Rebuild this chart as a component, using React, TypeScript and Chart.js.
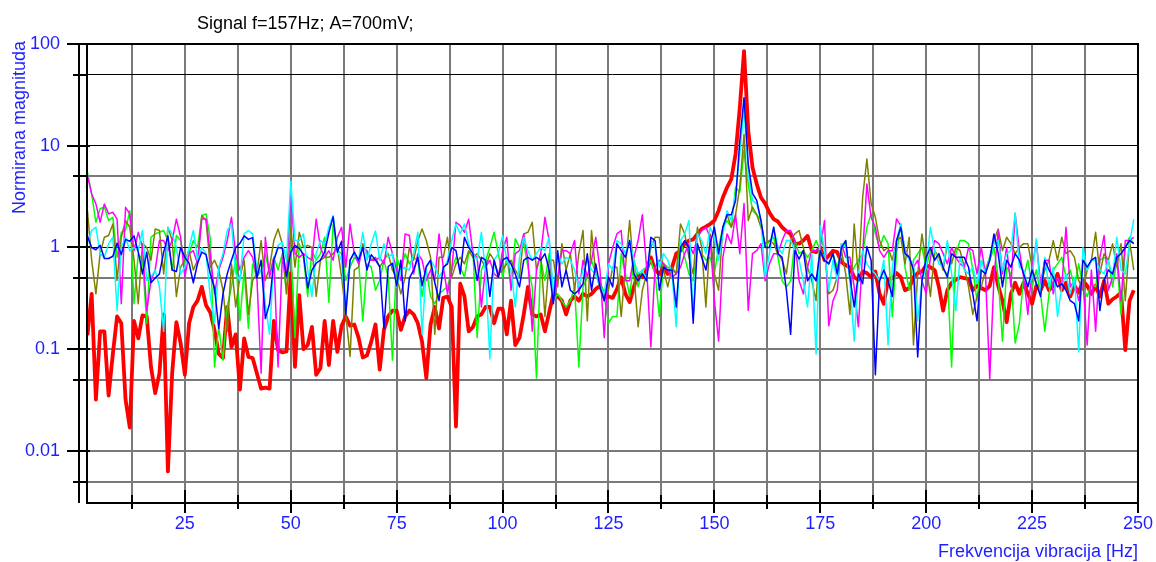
import React, { useEffect, useRef } from 'react';
import { Chart, registerables } from 'chart.js';

Chart.register(...registerables);

// Frequency bins (Hz): first bin and bin width
const FREQ_START = 2;
const FREQ_STEP = 1;

// Normalised magnitudes, one value per 1 Hz bin from 2 Hz to 249 Hz
const redSeries = [
  0.137, 0.35, 0.032, 0.15, 0.15, 0.035, 0.09, 0.21, 0.18, 0.032, 0.017, 0.19, 0.128, 0.215, 0.21, 0.067, 0.037, 0.058, 0.22, 0.0063,
  0.058, 0.185, 0.115, 0.056, 0.18, 0.26, 0.3, 0.41, 0.27, 0.23, 0.154, 0.09, 0.082, 0.26, 0.105, 0.14, 0.04, 0.128, 0.084, 0.082, 0.058,
  0.041, 0.042, 0.041, 0.19, 0.098, 0.093, 0.095, 0.56, 0.067, 0.34, 0.1, 0.11, 0.166, 0.056, 0.065, 0.19, 0.07, 0.19, 0.094, 0.17,
  0.21, 0.17, 0.175, 0.13, 0.083, 0.087, 0.118, 0.175, 0.063, 0.155, 0.21, 0.24, 0.24, 0.155, 0.21, 0.24, 0.22, 0.18, 0.118, 0.052,
  0.175, 0.26, 0.16,
  0.32, 0.33, 0.26, 0.0174, 0.44, 0.33, 0.15, 0.165, 0.21, 0.22, 0.26, 0.26, 0.18, 0.25, 0.25, 0.14, 0.3, 0.11, 0.13, 0.22,
  0.41, 0.22, 0.21, 0.22, 0.15, 0.23, 0.35, 0.33, 0.3, 0.22, 0.3, 0.33, 0.3, 0.35, 0.33, 0.35, 0.39, 0.42, 0.33, 0.33, 0.32,
  0.39, 0.51, 0.35, 0.29, 0.41, 0.55, 0.51, 0.6, 0.8, 0.6, 0.55, 0.64, 0.55, 0.64, 0.87, 0.93, 1.09, 1.17, 1.2, 1.36,
  1.52, 1.6, 1.7, 1.84, 2.3, 3.1, 3.9, 4.7, 8.3, 23.7, 85, 14, 6.1, 4.2, 3.1, 2.7, 2.2, 1.9, 1.8, 1.58, 1.45,
  1.36, 1.09, 1.09, 1.17, 1.3, 0.93, 0.9, 1.0, 0.75, 0.83, 0.93, 0.9, 0.72, 0.67, 0.64, 0.51, 0.48, 0.58, 0.56, 0.51,
  0.58, 0.35, 0.28, 0.48, 0.5, 0.56, 0.51, 0.38, 0.4, 0.51, 0.56, 0.58, 0.67, 0.64, 0.6, 0.41, 0.24, 0.38, 0.45, 0.48, 0.51,
  0.5, 0.49, 0.38, 0.42, 0.4, 0.38, 0.42, 0.64, 0.42, 0.3, 0.185, 0.35, 0.45, 0.35, 0.45, 0.35, 0.28, 0.42, 0.38, 0.47,
  0.38, 0.42, 0.55, 0.38, 0.45, 0.33, 0.42, 0.36, 0.47, 0.42, 0.35, 0.42, 0.33, 0.47, 0.28, 0.31, 0.33, 0.36, 0.098, 0.3, 0.38,
];

const blueSeries = [
  1.3, 1.0, 0.95, 1.05, 0.78, 0.78, 0.82, 1.1, 0.85, 1.2, 1.15, 1.3, 0.9, 0.55, 0.9, 0.45, 0.5, 0.55, 0.9, 1.3,
  0.6, 0.58, 1.0, 0.8, 0.7, 0.45, 0.7, 0.9, 0.85, 0.55, 0.4, 0.16, 0.35, 0.55, 0.75, 1.0, 1.1, 1.3, 1.2, 1.25, 0.5,
  0.75, 0.2, 0.28, 0.75, 1.0, 0.98, 0.52, 0.9, 1.05, 0.98, 0.85, 0.4, 0.6, 0.7, 0.75, 0.9, 1.4, 2.0, 0.9, 1.15,
  0.22, 0.75, 0.9, 0.75, 1.0, 0.6, 0.85, 0.75, 0.65, 0.16, 0.65, 0.7, 0.42, 0.75, 0.19, 0.5, 0.6, 0.8, 0.42, 0.65,
  0.75, 0.45, 0.3,
  0.64, 0.69, 1.0, 0.93, 0.55, 1.26, 1.0, 0.87, 0.475, 0.8, 0.75, 0.33, 0.75, 0.51, 0.75, 0.8, 0.69, 0.55, 0.41, 0.75,
  0.8, 0.75, 0.8, 0.75, 0.87, 0.6, 0.28, 0.93, 0.41, 0.6, 0.38, 0.35, 0.38, 0.44, 0.87, 0.38, 0.69, 0.41, 0.3, 0.51, 0.41,
  1.09, 0.93, 0.8, 1.17, 0.55, 0.47, 0.55, 0.47, 1.26, 1.17, 0.38, 0.64, 0.6, 0.6, 0.26, 1.0, 1.17, 1.0, 0.18, 1.09,
  0.8, 0.6, 1.09, 1.58, 0.87, 1.58, 2.1, 2.1, 2.9, 11.2, 29.7, 6.6, 3.4, 2.9, 1.84, 1.0, 1.0, 1.58, 0.87, 0.8, 0.38,
  0.14, 0.93, 0.77, 0.93, 0.47, 0.55, 0.47, 0.93, 0.75, 0.69, 0.87, 0.55, 1.0, 1.17, 0.51, 0.26, 0.55, 0.44, 1.02, 0.75,
  0.056, 0.47, 0.6, 0.47, 0.33, 1.17, 1.58, 0.87, 0.8, 0.6, 0.084, 0.47, 0.8, 1.0, 0.75, 0.87, 0.64, 0.51, 0.87, 0.8, 0.8,
  0.8, 0.64, 0.35, 0.19, 0.6, 0.55, 0.75, 1.36, 0.87, 0.41, 0.75, 0.64, 0.87, 0.75, 0.55, 0.41, 0.6, 0.44, 0.33, 0.75,
  0.6, 0.51, 0.41, 0.44, 0.38, 0.3, 0.28, 0.19, 0.75, 0.64, 0.75, 0.8, 0.24, 0.475, 0.6, 0.55, 0.8, 0.87, 1.0, 1.17, 1.09,
];

const cyanSeries = [
  1.09, 1.47, 1.58, 0.87, 0.8, 1.09, 1.26, 0.24, 1.0, 1.26, 0.93, 1.0, 0.93, 1.47, 0.475, 0.51, 0.6, 0.41, 0.15, 1.58,
  1.36, 1.0, 0.55, 0.64, 1.0, 1.47, 0.75, 1.0, 0.87, 0.33, 0.18, 0.64, 0.87, 1.47, 1.7, 0.55, 0.475, 1.36, 1.47, 1.36, 0.6,
  0.6, 0.28, 0.14, 0.75, 1.05, 1.13, 0.75, 4.5, 1.17, 1.17, 1.36, 0.6, 0.33, 0.87, 1.17, 1.09, 1.58, 2.06, 0.93, 0.75,
  0.24, 0.75, 0.87, 0.75, 1.41, 0.75, 1.09, 1.45, 0.75, 1.09, 0.8, 0.87, 0.41, 0.6, 0.64, 0.6, 0.87, 1.41, 0.14, 0.64,
  0.75, 0.64, 0.51,
  0.6, 0.75, 1.17, 1.7, 1.36, 1.7, 1.09, 0.87, 0.75, 1.41, 0.55, 0.08, 0.75, 0.87, 1.31, 0.75, 0.6, 0.26, 0.8, 1.26,
  0.93, 0.75, 0.87, 1.0, 0.93, 1.26, 0.35, 0.87, 0.69, 0.8, 0.75, 0.6, 0.41, 0.6, 0.75, 0.6, 0.55, 0.41, 0.35, 0.69, 0.6,
  1.17, 1.09, 0.87, 1.17, 0.75, 0.55, 0.6, 0.47, 1.17, 1.0, 0.64, 0.87, 0.75, 0.55, 0.166, 1.17, 1.36, 1.84, 0.21, 1.36,
  1.17, 0.87, 1.58, 1.26, 0.75, 1.36, 2.3, 1.84, 3.36, 8.3, 23.7, 5.3, 2.9, 2.7, 1.84, 0.51, 0.87, 1.58, 1.0, 0.87, 1.17,
  1.17, 0.93, 0.75, 0.47, 0.26, 0.87, 0.09, 1.64, 0.93, 0.38, 0.75, 0.47, 1.09, 1.0, 0.47, 0.12, 0.55, 0.93, 0.69, 0.6,
  0.55, 0.47, 0.75, 0.11, 0.64, 1.17, 1.7, 0.93, 0.75, 0.69, 0.19, 0.47, 0.64, 1.58, 0.93, 0.69, 0.64, 1.17, 0.55, 0.24, 0.8,
  0.6, 0.55, 0.64, 0.44, 0.75, 0.55, 0.8, 1.09, 1.17, 0.6, 0.87, 0.93, 2.2, 0.64, 0.6, 0.41, 0.51, 1.22, 0.35, 0.8,
  0.41, 0.64, 0.21, 0.41, 0.55, 0.35, 0.51, 0.094, 1.0, 0.6, 0.75, 0.75, 0.6, 0.55, 0.75, 0.51, 1.26, 0.6, 0.55, 1.09, 1.9,
];

const greenSeries = [
  5.5, 3.36, 1.77, 2.4, 2.5, 1.84, 1.98, 0.8, 1.41, 1.47, 2.3, 0.28, 0.87, 0.75, 0.18, 1.26, 1.36, 1.41, 1.47, 1.17,
  0.6, 1.31, 1.17, 0.69, 0.87, 1.17, 1.0, 2.06, 2.14, 1.22, 0.067, 0.166, 0.078, 0.26, 0.41, 0.8, 0.19, 0.6, 0.16, 0.69, 0.51,
  0.6, 0.87, 0.55, 0.8, 0.6, 0.87, 0.35, 1.0, 0.13, 1.09, 0.8, 0.33, 0.93, 0.75, 0.87, 1.26, 0.29, 1.7, 0.93, 0.87,
  0.475, 0.64, 0.8, 0.75, 0.19, 0.69, 0.64, 0.38, 0.475, 0.75, 0.51, 0.078, 0.8, 0.6, 0.87, 0.69, 0.8, 0.75, 0.33, 0.6,
  0.33, 0.28, 0.35,
  0.38, 0.41, 0.6, 0.8, 0.64, 0.51, 0.87, 0.93, 0.13, 0.6, 0.75, 1.0, 1.41, 0.87, 0.51, 0.8, 0.41, 1.22, 1.0, 1.09,
  0.64, 0.41, 0.052, 0.75, 0.475, 0.87, 0.3, 0.35, 0.3, 0.26, 0.3, 0.41, 0.067, 0.41, 0.51, 0.75, 0.55, 0.475, 0.33, 0.18, 0.21,
  0.21, 0.87, 0.55, 0.33, 0.75, 0.41, 0.6, 0.64, 0.75, 0.55, 0.21, 0.7, 0.64, 0.6, 0.55, 1.17, 0.8, 0.55, 0.47, 1.0,
  0.87, 0.75, 0.8, 0.55, 1.0, 1.58, 1.84, 1.58, 3.9, 3.5, 9, 4.2, 2.3, 2.1, 1.84, 1.0, 1.17, 1.26, 0.8, 0.47, 0.41,
  0.47, 1.17, 0.87, 0.93, 0.8, 0.93, 1.17, 0.93, 0.8, 0.69, 0.87, 0.64, 0.93, 1.17, 0.47, 0.64, 0.75, 0.87, 1.58, 2.14,
  1.36, 1.0, 1.31, 1.09, 0.21, 0.87, 1.7, 0.64, 0.38, 0.75, 0.87, 1.0, 0.64, 0.93, 0.75, 0.87, 0.6, 0.55, 0.067, 0.87, 1.17,
  1.17, 1.09, 0.6, 0.3, 0.75, 0.6, 0.75, 1.0, 0.51, 0.12, 0.64, 0.55, 0.115, 0.18, 0.51, 0.75, 0.41, 0.6, 0.35, 0.15,
  0.35, 0.6, 0.69, 0.8, 0.51, 0.6, 0.41, 0.69, 0.41, 0.33, 0.44, 0.41, 0.75, 0.8, 0.75, 0.41, 0.75, 0.22, 1.0, 1.26, 1.09,
];

const oliveSeries = [
  2.3, 0.75, 0.35, 0.87, 1.26, 1.31, 1.7, 0.475, 1.26, 1.84, 1.58, 0.75, 0.28, 1.09, 1.0, 0.75, 1.52, 1.47, 0.55, 1.58,
  1.17, 0.33, 0.64, 0.75, 0.93, 0.6, 0.75, 2.06, 1.84, 0.64, 0.75, 0.6, 0.38, 0.15, 0.69, 0.26, 0.51, 0.75, 0.22, 0.475, 0.55,
  1.17, 0.475, 0.64, 1.17, 1.52, 1.09, 0.35, 1.58, 0.64, 1.41, 1.0, 1.05, 1.0, 0.33, 0.75, 0.8, 0.8, 0.87, 1.0, 0.51,
  0.22, 0.085, 0.6, 0.64, 1.09, 0.87, 0.75, 0.8, 0.64, 0.75, 0.87, 0.6, 0.51, 0.35, 0.51, 1.0, 0.75, 1.17, 1.52, 1.17,
  0.8, 0.14, 0.8,
  0.8, 1.26, 0.51, 0.69, 0.8, 0.69, 0.93, 0.8, 0.87, 0.75, 0.64, 0.87, 0.75, 0.55, 0.6, 0.69, 0.75, 0.6, 0.51, 1.36,
  1.41, 1.77, 0.6, 0.87, 0.21, 0.75, 0.75, 0.41, 1.09, 0.6, 0.87, 0.38, 0.87, 1.47, 0.19, 1.47, 0.55, 0.41, 0.3, 0.38, 0.64,
  0.64, 0.21, 0.64, 1.84, 0.55, 0.166, 0.38, 0.55, 1.0, 1.26, 1.26, 0.6, 0.41, 0.64, 0.55, 1.7, 1.36, 0.8, 0.55, 1.58,
  1.0, 0.26, 1.36, 0.55, 0.38, 1.58, 2.1, 1.58, 2.1, 3.9, 13, 1.84, 2.5, 2.1, 1.58, 1.09, 1.17, 1.09, 0.87, 0.75, 0.55,
  1.17, 1.36, 1.47, 1.0, 0.64, 0.47, 0.3, 1.36, 0.93, 0.35, 0.38, 0.51, 0.93, 0.55, 0.22, 1.7, 0.51, 3.1, 7.4, 2.7,
  1.98, 1.17, 0.93, 1.0, 0.75, 1.17, 1.26, 0.69, 1.26, 0.11, 0.55, 1.36, 0.69, 0.33, 0.93, 0.8, 0.6, 1.09, 0.69, 1.0, 0.93,
  0.64, 0.41, 0.22, 0.33, 0.41, 0.6, 0.8, 1.17, 1.52, 0.93, 1.26, 1.09, 0.87, 1.0, 1.09, 1.09, 0.64, 0.44, 0.41, 0.6,
  0.75, 1.17, 0.75, 1.26, 0.87, 0.93, 0.8, 0.475, 0.38, 0.6, 0.75, 1.41, 0.55, 0.87, 0.75, 1.09, 0.64, 1.09, 0.3, 1.17, 0.6,
];

const magentaSeries = [
  5.1, 3.36, 2.68, 1.77, 2.68, 2.14, 2.22, 1.9, 0.28, 2.48, 2.14, 0.93, 1.41, 1.0, 0.24, 0.475, 0.6, 1.17, 1.17, 0.93,
  1.17, 1.9, 1.26, 0.51, 0.87, 0.93, 0.69, 1.9, 1.9, 0.87, 0.35, 0.6, 0.8, 1.17, 1.98, 0.87, 0.6, 0.8, 0.93, 0.8, 0.51,
  0.058, 1.26, 0.51, 0.8, 0.067, 0.8, 0.51, 3.36, 0.87, 0.8, 0.87, 0.8, 0.75, 1.9, 1.0, 0.8, 0.93, 0.75, 1.26, 1.58,
  0.64, 1.7, 0.87, 0.69, 1.0, 0.93, 0.75, 0.75, 0.8, 0.69, 1.26, 0.87, 0.6, 0.475, 1.36, 1.31, 0.55, 0.87, 0.75, 0.475,
  0.6, 0.475, 1.36,
  0.64, 0.35, 0.6, 1.77, 1.64, 1.41, 1.9, 0.87, 0.8, 0.26, 0.64, 0.75, 0.55, 0.51, 0.93, 1.26, 0.38, 0.87, 0.93, 1.36,
  0.75, 0.15, 0.6, 0.87, 1.98, 1.17, 0.3, 0.51, 0.93, 0.93, 0.87, 1.17, 0.35, 0.75, 0.51, 0.75, 1.26, 0.6, 0.13, 0.69, 1.0,
  1.36, 1.47, 0.47, 0.47, 0.8, 1.17, 2.1, 0.64, 0.105, 0.64, 0.75, 0.69, 0.6, 0.51, 0.55, 0.64, 0.87, 1.09, 0.87, 1.26,
  1.47, 1.58, 1.26, 0.3, 0.12, 0.8, 1.36, 1.09, 2.1, 0.87, 2.7, 0.24, 0.87, 0.93, 1.09, 0.47, 0.69, 0.87, 0.87, 1.17, 1.47,
  1.47, 1.17, 0.47, 0.35, 0.64, 0.93, 0.93, 1.0, 1.84, 0.17, 0.3, 0.38, 1.09, 0.8, 0.8, 0.41, 0.166, 0.87, 4.2, 1.98,
  1.58, 0.93, 0.8, 0.93, 0.93, 1.91, 1.64, 0.93, 0.8, 0.64, 0.75, 0.47, 0.35, 0.8, 1.17, 1.09, 0.87, 0.69, 1.0, 0.8, 0.69,
  0.64, 1.0, 0.93, 0.55, 1.0, 0.55, 0.051, 0.51, 1.47, 0.55, 1.0, 0.41, 2.14, 0.93, 0.51, 0.22, 0.64, 1.13, 0.44, 0.75,
  0.75, 0.35, 0.51, 0.41, 1.58, 0.41, 0.475, 0.3, 0.475, 0.11, 0.6, 0.15, 0.8, 1.31, 0.38, 0.51, 0.87, 0.3, 1.17, 1.17, 1.26,
];

// Axis definitions
const X_MIN = 1.9;
const X_MAX = 250;
const X_TICKS = [12.5, 25, 37.5, 50, 62.5, 75, 87.5, 100, 112.5, 125, 137.5, 150, 162.5, 175, 187.5, 200, 212.5, 225, 237.5, 250];
const X_LABELED = [25, 50, 75, 100, 125, 150, 175, 200, 225, 250];
const Y_MIN = 0.00308;
const Y_MAX = 100;
const Y_TICKS = [100, 50, 10, 5, 1, 0.5, 0.1, 0.05, 0.01, 0.005];
const Y_LABELED = [100, 10, 1, 0.1, 0.01];
const Y_LABEL_TEXT = ['100', '10', '1', '0.1', '0.01'];
const Y_DARK_GRID = [100, 50, 10, 1];

const TITLE = 'Signal f=157Hz; A=700mV;';
const Y_TITLE = 'Normirana magnituda';
const X_TITLE = 'Frekvencija vibracija [Hz]';

const FONT = '"Liberation Sans", Arial, Helvetica, sans-serif';
const BLUE_TEXT = '#1e1eff';

const SERIES = [
  { color: '#0000ff', values: blueSeries, width: 1.5 },
  { color: '#00ffff', values: cyanSeries, width: 1.5 },
  { color: '#ff00ff', values: magentaSeries, width: 1.5 },
  { color: '#808000', values: oliveSeries, width: 1.5 },
  { color: '#00ff00', values: greenSeries, width: 1.5 },
  { color: '#ff0000', values: redSeries, width: 3.8 },
];

const framePlugin = {
  id: 'frameDecor',
  afterDraw(chart: any) {
    const { ctx, chartArea: a, scales } = chart;
    const xs = scales.x;
    const ys = scales.y;
    ctx.save();
    ctx.strokeStyle = '#000';
    ctx.lineWidth = 2;
    ctx.strokeRect(a.left, a.top, a.right - a.left, a.bottom - a.top);
    // detached left axis line
    const axisX = a.left - 8;
    ctx.beginPath();
    ctx.moveTo(axisX, a.top);
    ctx.lineTo(axisX, a.bottom);
    ctx.stroke();
    // y ticks
    for (const v of Y_TICKS) {
      const py = Math.round(ys.getPixelForValue(v));
      const major = Y_LABELED.includes(v);
      ctx.beginPath();
      ctx.moveTo(major ? a.left - 20 : a.left - 14, py);
      ctx.lineTo(major ? a.left + 3 : a.left, py);
      ctx.stroke();
    }
    // x ticks
    for (const v of X_TICKS) {
      const px = Math.round(xs.getPixelForValue(v));
      const major = X_LABELED.includes(v);
      ctx.beginPath();
      ctx.moveTo(px, major ? a.bottom - 13 : a.bottom - 8);
      ctx.lineTo(px, major ? a.bottom + 10 : a.bottom + 6);
      ctx.stroke();
    }
    // titles
    ctx.font = `18px ${FONT}`;
    ctx.fillStyle = '#000';
    ctx.textAlign = 'left';
    ctx.textBaseline = 'alphabetic';
    ctx.fillText(TITLE, 197, 29);
    ctx.fillStyle = BLUE_TEXT;
    ctx.textAlign = 'right';
    ctx.fillText(X_TITLE, a.right, 557);
    ctx.translate(25, 214);
    ctx.rotate(-Math.PI / 2);
    ctx.textAlign = 'left';
    ctx.fillText(Y_TITLE, 0, 0);
    ctx.restore();
  },
};

export default function App() {
  const canvasRef = useRef<HTMLCanvasElement | null>(null);

  useEffect(() => {
    document.body.style.margin = '0';
    const canvas = canvasRef.current;
    if (!canvas) return;
    const freqs = redSeries.map((_, i) => FREQ_START + i * FREQ_STEP);
    const chart = new Chart(canvas, {
      type: 'line',
      data: {
        datasets: SERIES.map((s) => ({
          data: s.values.map((v, i) => ({ x: freqs[i], y: v })),
          borderColor: s.color,
          backgroundColor: s.color,
          borderWidth: s.width,
          pointRadius: 0,
          tension: 0,
          fill: false,
          borderJoinStyle: 'round' as const,
        })),
      },
      options: {
        responsive: false,
        animation: false,
        devicePixelRatio: 1,
        events: [],
        layout: { padding: { left: 0, top: 44, right: 18, bottom: 0 } },
        plugins: { legend: { display: false }, tooltip: { enabled: false }, title: { display: false } },
        scales: {
          x: {
            type: 'linear',
            min: X_MIN,
            max: X_MAX,
            afterBuildTicks: (s: any) => {
              s.ticks = X_TICKS.map((v) => ({ value: v }));
            },
            afterFit: (s: any) => {
              s.height = 59;
              s.paddingLeft = 0;
              s.paddingRight = 0;
            },
            ticks: {
              autoSkip: false,
              maxRotation: 0,
              padding: 10,
              color: BLUE_TEXT,
              font: { size: 18, family: FONT },
              callback: (v: any) => (X_LABELED.includes(Number(v)) ? String(v) : ''),
            },
            grid: { color: '#7a7a7a', lineWidth: 2, drawTicks: false },
            border: { display: false },
          },
          y: {
            type: 'logarithmic',
            min: Y_MIN,
            max: Y_MAX,
            afterBuildTicks: (s: any) => {
              s.ticks = Y_TICKS.map((v) => ({ value: v }));
            },
            afterFit: (s: any) => {
              s.width = 87;
              s.paddingTop = 0;
              s.paddingBottom = 0;
            },
            ticks: {
              autoSkip: false,
              padding: 27,
              color: BLUE_TEXT,
              font: { size: 18, family: FONT },
              callback: (v: any) => {
                const idx = Y_LABELED.indexOf(Number(v));
                return idx >= 0 ? Y_LABEL_TEXT[idx] : '';
              },
            },
            grid: {
              color: (c: any) => (Y_DARK_GRID.includes(c.tick?.value) ? '#000000' : '#7a7a7a'),
              lineWidth: (c: any) => (Y_DARK_GRID.includes(c.tick?.value) ? 1 : 2),
              drawTicks: false,
            },
            border: { display: false },
          },
        },
      },
      plugins: [framePlugin],
    } as any);
    return () => chart.destroy();
  }, []);

  return (
    <div style={{ position: 'absolute', left: 0, top: 0, width: 1156, height: 562, background: '#fff' }}>
      <canvas ref={canvasRef} width={1156} height={562} style={{ display: 'block', width: 1156, height: 562 }} />
    </div>
  );
}
